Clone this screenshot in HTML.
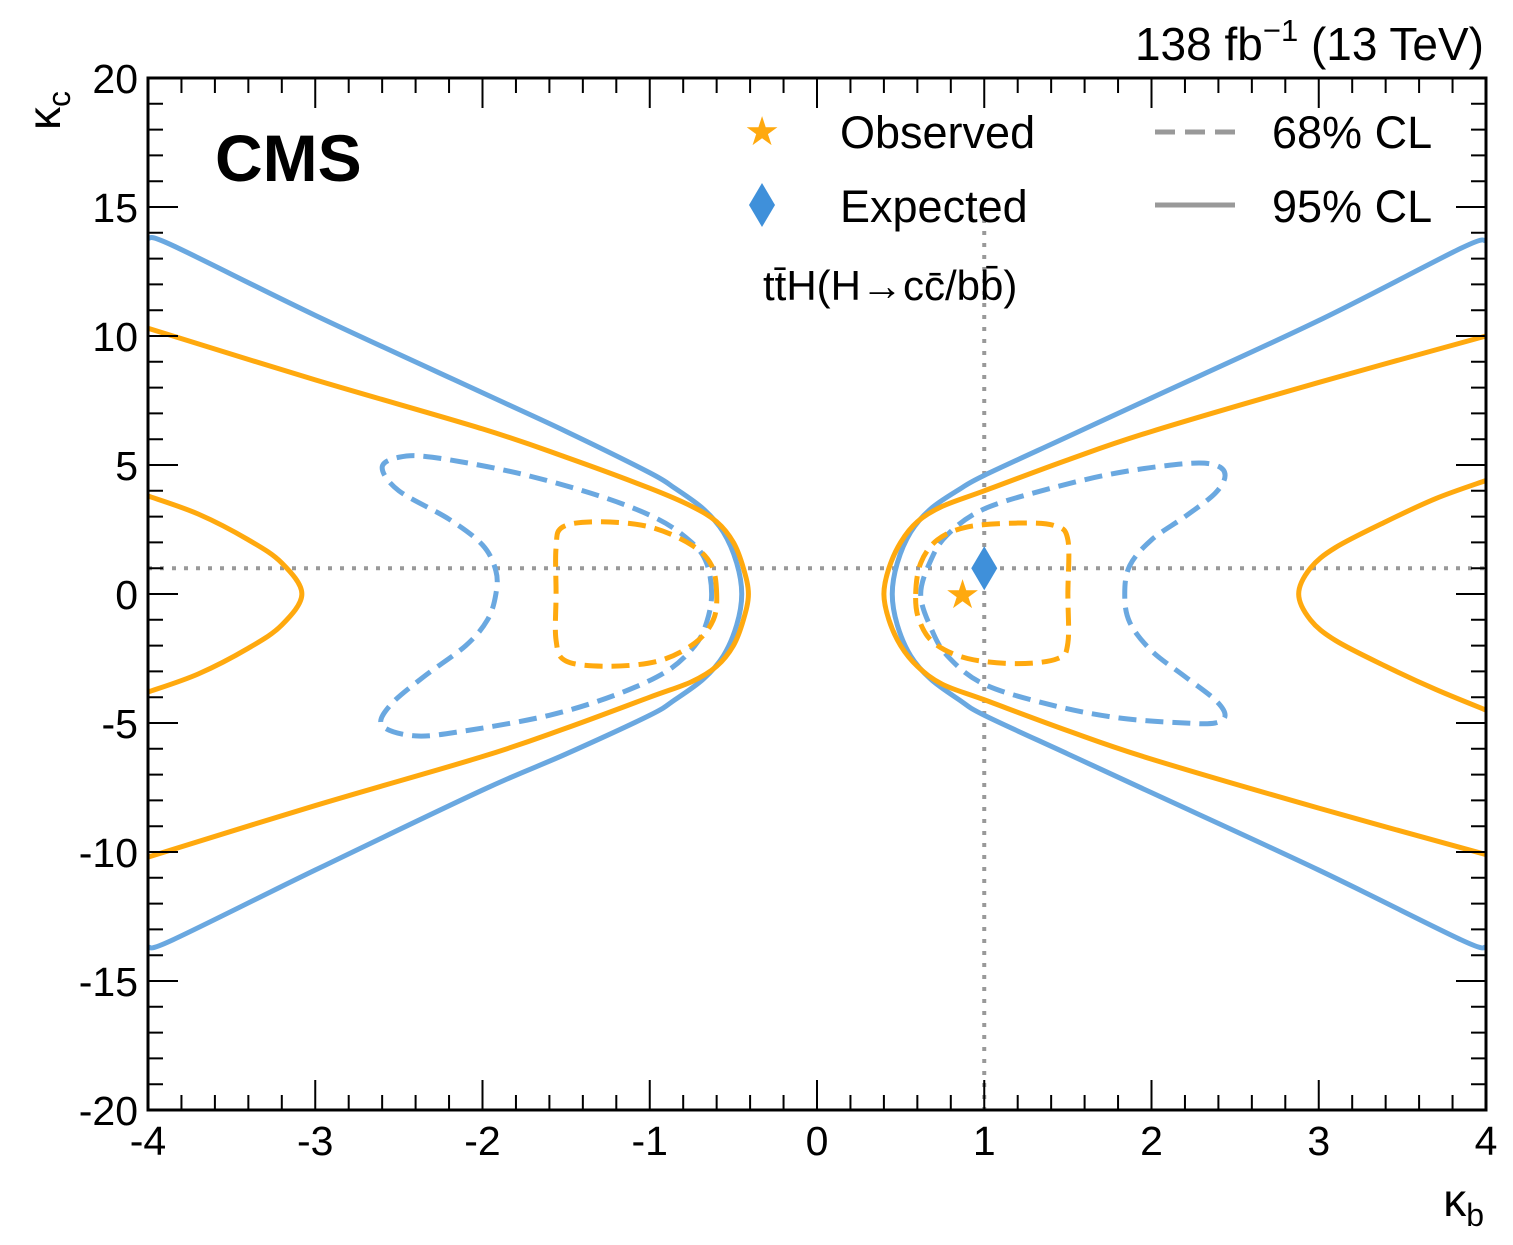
<!DOCTYPE html>
<html><head><meta charset="utf-8"><style>
body{margin:0;background:#fff;}
svg text{font-family:"Liberation Sans",sans-serif;}
</style></head><body>
<svg width="1513" height="1240" viewBox="0 0 1513 1240" xmlns="http://www.w3.org/2000/svg">
<g id="marks"></g>
<g id="axes"></g>
<text x="1484" y="60" font-size="46" text-anchor="end">138 fb<tspan dy="-19" font-size="31">−1</tspan><tspan dy="19"> (13 TeV)</tspan></text>
<text x="215" y="181" font-size="66" font-weight="bold">CMS</text>
<text x="763" y="300" font-size="42">tt̄H(H→cc̄/bb̄)</text>
<g>
<text x="762" y="145" font-size="40" fill="#ffa90e" text-anchor="middle">★</text>
<text x="840" y="148" font-size="45">Observed</text>
<path d="M762,183 L775,205 L762,227 L749,205 Z" fill="#3f90da"/>
<text x="840" y="222" font-size="45">Expected</text>
<line x1="1155" y1="132" x2="1235" y2="132" stroke="#999" stroke-width="5" stroke-dasharray="20,10"/>
<text x="1272" y="148" font-size="45">68% CL</text>
<line x1="1155" y1="205" x2="1235" y2="205" stroke="#999" stroke-width="5"/>
<text x="1272" y="222" font-size="45">95% CL</text>
</g>
<text x="1484" y="1216" font-size="46" text-anchor="end">κ<tspan dy="10" font-size="32">b</tspan></text>
<text transform="translate(60,130) rotate(-90)" font-size="46">κ<tspan dy="10" font-size="32">c</tspan></text>
</svg>
<script>
const xTicks=[-4,-3,-2,-1,0,1,2,3,4];
const yTicks=[-20,-15,-10,-5,0,5,10,15,20];
const obsBest=[0.87,0];
const expBest=[1,1];
const orange95Right=[[4,10.0],[3,8.2],[2,6.3],[1.5,5.2],[1,4.0],[0.75,3.4],[0.6,2.8],[0.5,2.0],[0.43,1.0],[0.40,0],[0.43,-1.0],[0.5,-2.0],[0.6,-2.8],[0.75,-3.5],[1,-4.1],[1.5,-5.3],[2,-6.4],[3,-8.3],[4,-10.1]];
const orange95Left=[[-4,10.3],[-3,8.3],[-2,6.4],[-1.5,5.3],[-1,4.1],[-0.75,3.4],[-0.6,2.8],[-0.5,2.0],[-0.44,1.0],[-0.41,0],[-0.44,-1.0],[-0.5,-2.0],[-0.6,-2.8],[-0.75,-3.4],[-1,-4.0],[-1.5,-5.2],[-2,-6.3],[-3,-8.2],[-4,-10.2]];
const orange95OuterRight=[[4,4.4],[3.7,3.7],[3.4,2.8],[3.1,1.8],[2.95,1],[2.88,0],[2.95,-1],[3.1,-1.8],[3.4,-2.8],[3.7,-3.7],[4,-4.5]];
const orange95OuterLeft=[[-4,3.8],[-3.7,3.1],[-3.4,2.1],[-3.2,1.2],[-3.08,0],[-3.2,-1.2],[-3.4,-2.1],[-3.7,-3.1],[-4,-3.8]];
const blue95Right=[[4,13.7],[3.85,13.4],[3,10.6],[2,7.6],[1.5,6.1],[1,4.6],[0.85,4.05],[0.68,3.3],[0.56,2.4],[0.48,1.2],[0.45,0],[0.48,-1.2],[0.56,-2.4],[0.68,-3.3],[0.85,-4.1],[1,-4.7],[1.5,-6.2],[2,-7.7],[3,-10.7],[3.85,-13.4],[4,-13.7]];
const blue95Left=[[-4,13.8],[-3.85,13.5],[-3,10.8],[-2,7.8],[-1.5,6.3],[-1,4.7],[-0.85,4.1],[-0.68,3.3],[-0.56,2.4],[-0.48,1.2],[-0.45,0],[-0.48,-1.2],[-0.56,-2.4],[-0.68,-3.3],[-0.85,-4.1],[-1,-4.7],[-1.5,-6.2],[-2,-7.6],[-3,-10.7],[-3.85,-13.4],[-4,-13.7]];
const blue68Right=[[0.62,0],[0.68,1.3],[0.78,2.3],[1,3.3],[1.4,4.1],[1.8,4.7],[2.2,5.05],[2.38,5.0],[2.44,4.6],[2.38,3.9],[2.2,3.0],[2.0,2.1],[1.87,1.1],[1.84,0],[1.87,-1.1],[2.0,-2.2],[2.2,-3.2],[2.38,-4.1],[2.44,-4.7],[2.38,-5.0],[2.2,-5.0],[1.8,-4.8],[1.4,-4.3],[1,-3.5],[0.78,-2.4],[0.68,-1.3]];
const blue68Left=[[-0.63,0],[-0.66,1.2],[-0.75,2.0],[-0.95,2.9],[-1.3,3.8],[-1.8,4.7],[-2.3,5.3],[-2.5,5.3],[-2.6,4.9],[-2.5,4.0],[-2.2,2.9],[-2.0,1.9],[-1.92,0.9],[-1.92,0],[-1.97,-1.0],[-2.1,-2.0],[-2.35,-3.2],[-2.55,-4.3],[-2.6,-5.1],[-2.4,-5.5],[-2.1,-5.3],[-1.6,-4.7],[-1.2,-3.9],[-0.9,-3.0],[-0.73,-2.0],[-0.66,-1.1]];
const orange68Right=[[0.59,0],[0.62,1.2],[0.72,2.1],[0.9,2.6],[1.2,2.75],[1.42,2.65],[1.5,2.1],[1.5,0],[1.5,-1.9],[1.44,-2.5],[1.2,-2.7],[0.9,-2.5],[0.7,-1.9],[0.61,-1]];
const orange68Left=[[-0.6,0],[-0.63,1.1],[-0.75,1.9],[-1.0,2.6],[-1.3,2.8],[-1.52,2.6],[-1.56,1.8],[-1.56,0],[-1.56,-1.8],[-1.5,-2.6],[-1.25,-2.8],[-0.95,-2.6],[-0.73,-1.9],[-0.62,-1]];

const X0=148,X1=1486,Y0=1110,Y1=78;
const sx=v=>X0+(v+4)/8*(X1-X0);
const sy=v=>Y0-(v+20)/40*(Y0-Y1);
const NS="http://www.w3.org/2000/svg";
const marks=document.getElementById('marks'), axes=document.getElementById('axes');
function mk(tag,attrs,parent){const e=document.createElementNS(NS,tag);for(const k in attrs)e.setAttribute(k,attrs[k]);parent.appendChild(e);return e;}
function pathFrom(pts,closed){
  const p=pts.map(q=>[sx(q[0]),sy(q[1])]);const n=p.length;
  let d='M'+p[0][0]+','+p[0][1];
  const get=i=>closed?p[(i+n)%n]:p[Math.max(0,Math.min(n-1,i))];
  const segs=closed?n:n-1;
  for(let i=0;i<segs;i++){
    const p0=get(i-1),p1=get(i),p2=get(i+1),p3=get(i+2);
    const c1=[p1[0]+(p2[0]-p0[0])/6,p1[1]+(p2[1]-p0[1])/6];
    const c2=[p2[0]-(p3[0]-p1[0])/6,p2[1]-(p3[1]-p1[1])/6];
    d+=`C${c1[0]},${c1[1]} ${c2[0]},${c2[1]} ${p2[0]},${p2[1]}`;
  }
  return d+(closed?'Z':'');
}
let l=mk('line',{x1:X0,x2:X1,y1:sy(1),y2:sy(1),stroke:'#999','stroke-width':4,'stroke-dasharray':'4,8'},marks);

l=mk('line',{x1:sx(1),x2:sx(1),y1:sy(15),y2:Y0,stroke:'#999','stroke-width':4,'stroke-dasharray':'4,8'},marks);

const curves=[
 [blue95Right,false,'#6aa8e0',false,'expected-95-right'],[blue95Left,false,'#6aa8e0',false,'expected-95-left'],
 [orange95Right,false,'#ffa90e',false,'observed-95-right'],[orange95Left,false,'#ffa90e',false,'observed-95-left'],
 [orange95OuterRight,false,'#ffa90e',false,'observed-95-outer-right'],[orange95OuterLeft,false,'#ffa90e',false,'observed-95-outer-left'],
 [blue68Right,true,'#6aa8e0',true,'expected-68-right'],[blue68Left,true,'#6aa8e0',true,'expected-68-left'],
 [orange68Right,true,'#ffa90e',true,'observed-68-right'],[orange68Left,true,'#ffa90e',true,'observed-68-left']];
for(const c of curves){
  const a={d:pathFrom(c[0],c[1]),fill:'none',stroke:c[2],'stroke-width':5};
  if(c[3])a['stroke-dasharray']='18,9';
  const e=mk('path',a,marks);
  
  
}
const st=mk('text',{x:sx(obsBest[0]),y:sy(obsBest[1])+14,'font-size':40,fill:'#ffa90e','text-anchor':'middle'},marks);
st.textContent='★';


const dx=sx(expBest[0]),dy=sy(expBest[1]);
const dm=mk('path',{d:`M${dx},${dy-22}L${dx+13},${dy}L${dx},${dy+22}L${dx-13},${dy}Z`,fill:'#3f90da'},marks);


const fr=mk('rect',{x:X0,y:Y1,width:X1-X0,height:Y0-Y1,fill:'none',stroke:'#000','stroke-width':3},axes);


let d='';
for(let v=-4;v<=4.0001;v+=0.2){const x=sx(v);const major=Math.abs(v-Math.round(v))<1e-6;const L=major?30:15;d+=`M${x},${Y0}v${-L}M${x},${Y1}v${L}`;}
for(let v=-20;v<=20;v+=1){const y=sy(v);const L=v%5===0?30:15;d+=`M${X0},${y}h${L}M${X1},${y}h${-L}`;}
const tk=mk('path',{d:d,stroke:'#000','stroke-width':2,fill:'none'},axes);


for(const v of xTicks){const t=mk('text',{x:sx(v),y:1155,'font-size':41,'text-anchor':'middle'},axes);t.textContent=String(v);
 
 }
for(const v of yTicks){const t=mk('text',{x:138,y:sy(v)+15,'font-size':41,'text-anchor':'end'},axes);t.textContent=String(v);
 
 }
</script>
</body></html>
